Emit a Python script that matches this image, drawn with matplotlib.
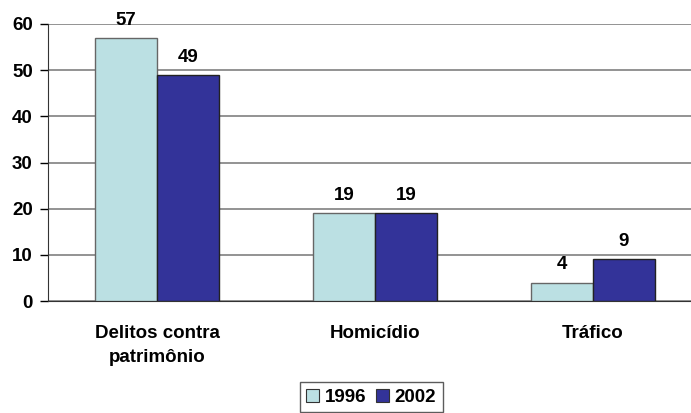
import numpy as np
import matplotlib
matplotlib.use("Agg")
import matplotlib.pyplot as plt
from matplotlib.patches import Patch

categories = ["Delitos contra\npatrimônio", "Homicídio", "Tráfico"]
years = ["1996", "2002"]
values_1996 = [57, 19, 4]
values_2002 = [49, 19, 9]

plt.rcParams["font.family"] = ["Liberation Sans", "DejaVu Sans"]
plt.rcParams["font.weight"] = "bold"

FS = 13.5

fig = plt.figure(figsize=(6.91, 4.13), dpi=100)
ax = fig.add_axes([48 / 691, 112 / 413, 654 / 691, 277 / 413])

x = np.arange(len(categories))
width = 0.284
colors = ["#BBE0E3", "#333399"]

b1 = ax.bar(x - width / 2, values_1996, width, color=colors[0],
            edgecolor="#666666", linewidth=1.0, zorder=3)
b2 = ax.bar(x + width / 2, values_2002, width, color=colors[1],
            edgecolor="#222222", linewidth=1.0, zorder=3)

for bars in (b1, b2):
    for rect in bars:
        h = rect.get_height()
        ax.text(rect.get_x() + rect.get_width() / 2, h + 2.0, f"{h:g}",
                ha="center", va="bottom", fontsize=FS, fontweight="bold")

ax.set_xlim(-0.5, 2.5)
ax.set_ylim(0, 60)
ax.set_yticks(range(0, 61, 10))
ax.yaxis.grid(True, color="#808080", linewidth=1.2, zorder=0)
ax.set_axisbelow(True)

ax.set_xticks(x)
ax.set_xticklabels(categories, fontsize=FS, fontweight="bold", linespacing=1.55)
ax.tick_params(axis="x", length=0, pad=17)
ax.tick_params(axis="y", length=6, width=1, labelsize=FS, pad=5)
for lab in ax.get_yticklabels():
    lab.set_fontweight("bold")

for side in ("top", "right"):
    ax.spines[side].set_visible(False)
ax.spines["left"].set_color("#333333")
ax.spines["bottom"].set_color("#333333")

handles = [Patch(facecolor=c, edgecolor="#333333", linewidth=0.8) for c in colors]
fig.legend(handles, years, loc="upper center", bbox_to_anchor=(371 / 691, 31 / 413),
           ncol=2, frameon=True, fancybox=False, edgecolor="#333333",
           handlelength=0.7, handleheight=0.7, handletextpad=0.3,
           columnspacing=0.5, borderpad=0.35, borderaxespad=0,
           prop={"weight": "bold", "size": FS})

fig.savefig("out.png", dpi=100)
